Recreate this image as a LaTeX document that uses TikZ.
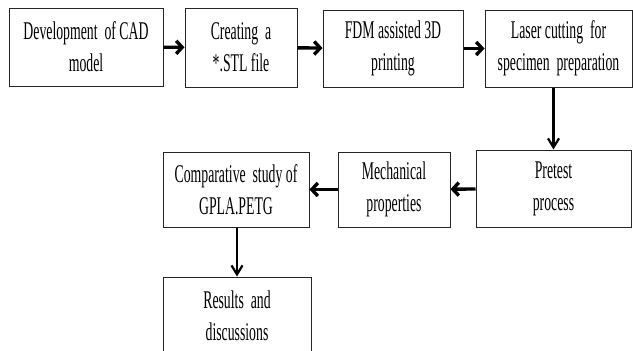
\documentclass[tikz,border=0pt]{standalone}
\usepackage{fontspec}
\setmainfont{Liberation Serif}[FakeStretch=0.54]
\usepackage{tikz}
\usetikzlibrary{positioning,arrows.meta}

\begin{document}
\begin{tikzpicture}[x=1pt, y=1pt,
    box/.style={draw=black!85, line width=1pt, rectangle, align=center, inner sep=0pt,
                font=\fontsize{25.5}{32}\selectfont},
    harrow/.style={-{Straight Barb[length=6pt, width=13pt]}, line width=3.4pt},
    varrow/.style={-{Straight Barb[length=9pt, width=11pt]}, line width=2.2pt}]
    \useasboundingbox (0,0) rectangle (633,-351);

    % Row 1
    \node[box, minimum width=154pt, minimum height=78pt] (cad) at (86,-47) {Development\ \ of CAD\\model};
    \node[box, minimum width=112pt, minimum height=79pt] (stl) at (241,-47.5) {Creating\ \ a\\*.STL file};
    \node[box, minimum width=140pt, minimum height=77pt] (fdm) at (393,-48.5) {FDM assisted 3D\\printing};
    \node[box, minimum width=147pt, minimum height=77pt] (laser) at (558.5,-48.5) {Laser cutting\ \ for\\specimen\ \ preparation};

    % Row 2
    \node[box, minimum width=155pt, minimum height=77pt] (pretest) at (553.5,-188.5) {Pretest\\process};
    \node[box, minimum width=112pt, minimum height=75pt] (mech) at (394,-189.5) {Mechanical\\properties};
    \node[box, minimum width=146pt, minimum height=75pt] (comp) at (236,-189.5) {Comparative\ \ study of\\GPLA.PETG};

    % Row 3
    \node[box, minimum width=148pt, minimum height=78pt] (results) at (237,-316) {Results\ \ and\\discussions};

    % Arrows
    \draw[harrow] (cad) -- (stl);
    \draw[harrow] (stl) -- (fdm);
    \draw[harrow] (fdm) -- (laser);
    \draw[varrow] (laser.south -| pretest.north) -- (pretest.north);
    \draw[harrow] (pretest) -- (mech);
    \draw[harrow] (mech) -- (comp);
    \draw[varrow] (comp.south -| results.north) -- (results.north);
\end{tikzpicture}
\end{document}
